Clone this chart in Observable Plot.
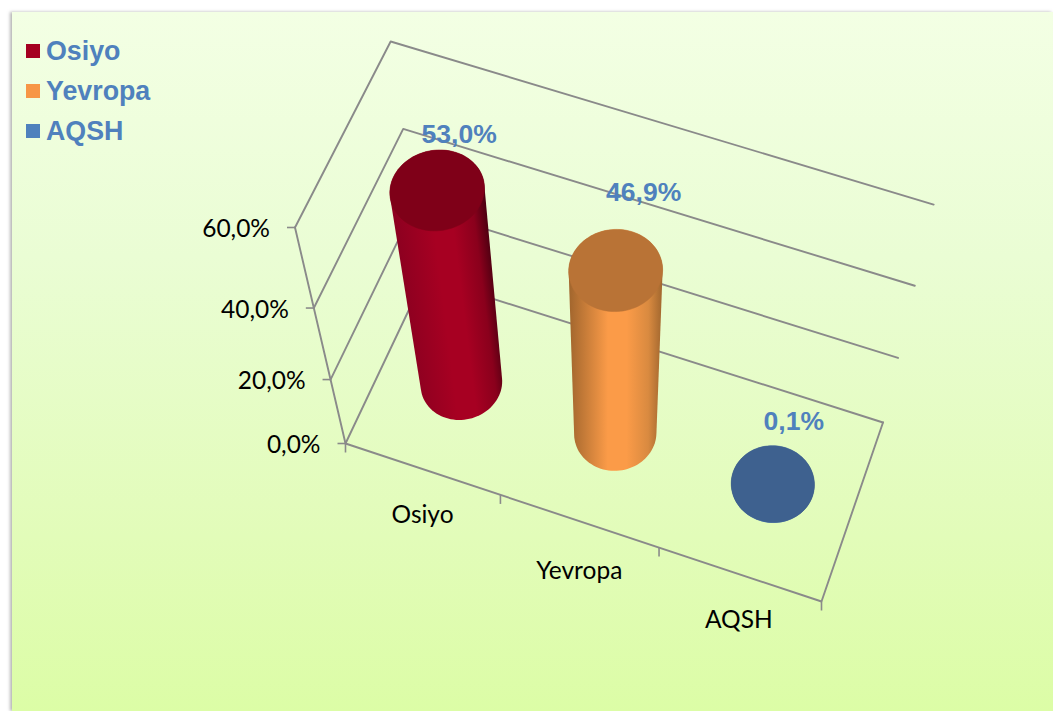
<!DOCTYPE html>
<html>
<head>
<meta charset="utf-8">
<script src="https://cdn.jsdelivr.net/npm/d3@7"></script>
<script src="https://cdn.jsdelivr.net/npm/@observablehq/plot@0.6"></script>
<style>
html,body{margin:0;padding:0;background:#fff;overflow:hidden}
#panel{position:absolute;left:12px;top:12px;width:1041px;height:699px;
  background:linear-gradient(180deg,#f3ffe4 0%,#eafdd4 35%,#e2fcb9 75%,#dcfda6 100%);
  box-shadow:-2px 0 3px rgba(120,120,120,.55)}
#chart{position:absolute;left:0;top:0}
#chart svg{background:transparent;display:block}
</style>
</head>
<body>
<div id="panel"></div>
<div id="chart"></div>
<script>
// ---- data ----
const categories = ["Osiyo", "Yevropa", "AQSH"];
const values = [53.0, 46.9, 0.1];
const valueLabels = ["53,0%", "46,9%", "0,1%"];
const axisTicks = [0, 20, 40, 60];
const axisLabels = ["0,0%", "20,0%", "40,0%", "60,0%"];
const legendColors = ["#a50021", "#f79646", "#4f81bd"];
const capColors = ["#7f0018", "#b97336", "#3e618f"];
const sideStops = [
  ["#8c0020", "#a70022", "#a70022", "#8a001c", "#480010"],
  ["#a0652d", "#fb9b48", "#fb9b48", "#d98a40", "#a0662e"],
  ["#2f4d73", "#4f81bd", "#4f81bd", "#3e618f", "#2f4d73"]
];
const stopAt = [0, 0.42, 0.62, 0.85, 1];
const axisMax = 60;

// ---- oblique camera: (category position, depth, value) -> picture plane ----
const floorQuad = {A: [345, 443], B: [821, 601], C: [882.5, 422], D: [424, 276.5]};
const frontTop = [294.5, 227], backRightTop = [932, 202], backLeftTop = [389, 37];

function squareToQuad({A, B, C, D}) {
  const sx = A[0] - B[0] + C[0] - D[0], sy = A[1] - B[1] + C[1] - D[1];
  const dx1 = B[0] - C[0], dx2 = D[0] - C[0], dy1 = B[1] - C[1], dy2 = D[1] - C[1];
  const den = dx1 * dy2 - dx2 * dy1;
  const g = (sx * dy2 - dx2 * sy) / den, h = (dx1 * sy - sx * dy1) / den;
  return {
    ax: B[0] - A[0] + g * B[0], bx: D[0] - A[0] + h * D[0], cx: A[0],
    ay: B[1] - A[1] + g * B[1], by: D[1] - A[1] + h * D[1], cy: A[1],
    g, h
  };
}
const H = squareToQuad(floorQuad);
const { A, C, D } = floorQuad;
// height column of the camera: fitted to the three wall corners at the top of the axis
let sumL = 0, sumR = 0;
[[backRightTop, C, H.g + H.h + 1], [backLeftTop, D, H.h + 1]].forEach(([top, base, w]) => {
  for (const k of [0, 1]) {
    const l = frontTop[k] - top[k];
    const r = (top[k] - base[k]) * w - (frontTop[k] - A[k]);
    sumL += l * l; sumR += l * r;
  }
});
const zw = sumR / sumL;
const zx = frontTop[0] - A[0] + frontTop[0] * zw;
const zy = frontTop[1] - A[1] + frontTop[1] * zw;

function project(u, v, value) {
  const t = value / axisMax;
  const w = H.g * u + H.h * v + 1 + t * zw;
  return [
    (H.ax * u + H.bx * v + H.cx + t * zx) / w,
    (H.ay * u + H.by * v + H.cy + t * zy) / w
  ];
}

// ---- tables for the marks ----
const n = categories.length;
const wall = [];
let lineId = 0;
function addLine(pts) {
  const id = lineId++;
  pts.forEach(p => wall.push({id, x: p[0], y: p[1]}));
}
for (const tick of axisTicks) {
  addLine([project(0, 0, tick), project(0, 1, tick), project(1, 1, tick)]);
}
addLine([project(0, 0, 0), project(0, 0, axisMax)]);
addLine([project(0, 0, 0), project(1, 0, 0), project(1, 1, 0)]);

const catTicks = d3.range(n + 1).map(i => {
  const [x, y] = project(i / n, 0, 0);
  return {x, y, y2: y + 9};
});
const valTicks = axisTicks.map((tick, i) => {
  const [x, y] = project(0, 0, tick);
  return {x, y, x2: x - 8, label: axisLabels[i]};
});
const catNudge = [[0, 46], [0, 50], [-1, 46]];
const catText = categories.map((label, i) => {
  const [x, y] = project((i + 0.5) / n, 0, 0);
  return {x: x + catNudge[i][0], y: y + catNudge[i][1], label};
});

const ru = 0.0825, rv = 0.205, seg = 96, depth = 0.5;
const labelNudge = [[22, -55], [28, -78], [21, -62]];
const sides = [], caps = [], valueText = [], gradients = [];
values.forEach((val, i) => {
  const cu = (i + 0.5) / n;
  const ring = (value, th) => project(cu + ru * Math.cos(th), depth + rv * Math.sin(th), value);
  const bc = project(cu, depth, 0), tc = project(cu, depth, val);
  const ax = tc[0] - bc[0], ay = tc[1] - bc[1], len = Math.hypot(ax, ay) || 1;
  let nx = -ay / len, ny = ax / len;
  if (nx < 0) { nx = -nx; ny = -ny; }
  const angles = d3.range(seg).map(k => k / seg * 2 * Math.PI);
  const outline = angles.flatMap(th => [ring(0, th), ring(val, th)]);
  const hull = d3.polygonHull(outline);
  const across = hull.map(p => (p[0] - bc[0]) * nx + (p[1] - bc[1]) * ny);
  const lo = d3.min(across), hi = d3.max(across);
  gradients.push({
    id: "side" + i, stops: sideStops[i],
    x1: bc[0] + nx * lo, y1: bc[1] + ny * lo, x2: bc[0] + nx * hi, y2: bc[1] + ny * hi
  });
  hull.forEach(p => sides.push({i, x: p[0], y: p[1]}));
  angles.forEach(th => {
    const p = ring(val, th);
    caps.push({i, x: p[0], y: p[1], color: capColors[i]});
  });
  valueText.push({x: tc[0] + labelNudge[i][0], y: tc[1] + labelNudge[i][1], label: valueLabels[i]});
});

const legendRows = categories.map((label, i) => ({
  label, color: legendColors[i], x1: 26, x2: 40, y1: 44 + 40 * i, y2: 58 + 40 * i, tx: 45.5, ty: 51 + 40 * i
}));

const defs = () => {
  const ns = "http://www.w3.org/2000/svg";
  const el = document.createElementNS(ns, "defs");
  gradients.forEach(g => {
    const lg = document.createElementNS(ns, "linearGradient");
    lg.setAttribute("id", g.id);
    lg.setAttribute("gradientUnits", "userSpaceOnUse");
    ["x1", "y1", "x2", "y2"].forEach(k => lg.setAttribute(k, g[k]));
    g.stops.forEach((c, j) => {
      const s = document.createElementNS(ns, "stop");
      s.setAttribute("offset", stopAt[j]);
      s.setAttribute("stop-color", c);
      lg.appendChild(s);
    });
    el.appendChild(lg);
  });
  return el;
};

const gray = "#8a8a8a";
const chart = Plot.plot({
  width: 1053,
  height: 711,
  margin: 0,
  x: {type: "identity", axis: null},
  y: {type: "identity", axis: null},
  color: {type: "identity"},
  style: {background: "transparent"},
  marks: [
    defs,
    Plot.line(wall, {x: "x", y: "y", z: "id", stroke: gray, strokeWidth: 1.9, curve: "linear"}),
    Plot.link(catTicks, {x1: "x", y1: "y", x2: "x", y2: "y2", stroke: gray, strokeWidth: 1.6}),
    Plot.link(valTicks, {x1: "x", y1: "y", x2: "x2", y2: "y", stroke: gray, strokeWidth: 1.6}),
    Plot.text(valTicks, {x: "x", y: "y", text: "label", dx: -25, dy: 2, textAnchor: "end",
      fontFamily: "Lato", fontSize: 24.5, fill: "#000"}),
    Plot.text(catText, {x: "x", y: "y", text: "label",
      fontFamily: "Lato", fontSize: 24.5, fill: "#000"}),
    ...values.map((_, i) => Plot.line(sides.filter(d => d.i === i), {
      x: "x", y: "y", fill: `url(#side${i})`, stroke: "none", curve: "linear-closed"
    })),
    Plot.line(caps, {x: "x", y: "y", z: "i", fill: "color", stroke: "color", strokeWidth: 0.5, curve: "linear-closed"}),
    Plot.text(valueText, {x: "x", y: "y", text: "label",
      fontFamily: "Liberation Sans", fontWeight: "bold", fontSize: 26.5, fill: "#4f81bd"}),
    Plot.rect(legendRows, {x1: "x1", x2: "x2", y1: "y1", y2: "y2", fill: "color"}),
    Plot.text(legendRows, {x: "tx", y: "ty", text: "label", textAnchor: "start",
      fontFamily: "Liberation Sans", fontWeight: "bold", fontSize: 26.8, fill: "#4f81bd"})
  ]
});
document.getElementById("chart").appendChild(chart);
</script>
</body>
</html>
